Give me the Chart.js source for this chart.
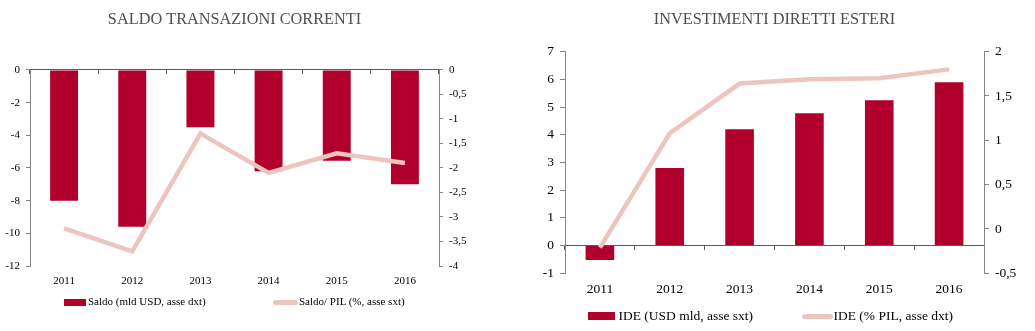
<!DOCTYPE html>
<html>
<head>
<meta charset="utf-8">
<script src="https://cdn.jsdelivr.net/npm/chart.js@4.4.1/dist/chart.umd.min.js"></script>
<style>
  body { margin: 0; width: 1035px; height: 331px; background: #fff; position: relative; overflow: hidden; font-family: 'Liberation Serif', 'Times New Roman', serif; }
  canvas { position: absolute; top: 0; }
  #left { left: 0; }
  #right { left: 515px; }
  .leg { position: absolute; white-space: nowrap; color: #000; line-height: 1; }
  .sw { position: absolute; }
</style>
</head>
<body>
<canvas id="left" width="515" height="331"></canvas>
<canvas id="right" width="520" height="331"></canvas>

<!-- legends -->
<div class="sw" style="left:64px;top:299px;width:22px;height:7px;background:#b1002b"></div>
<div class="leg" style="left:88px;top:296px;font-size:11px">Saldo (mld USD, asse dxt)</div>
<div class="sw" style="left:273px;top:300px;width:25px;height:5px;border-radius:3px;background:#ecc5bf"></div>
<div class="leg" style="left:299px;top:296px;font-size:11px">Saldo/ PIL (%, asse sxt)</div>

<div class="sw" style="left:588px;top:312px;width:27px;height:8px;background:#b1002b"></div>
<div class="leg" style="left:618.5px;top:309px;font-size:13.5px">IDE (USD mld, asse sxt)</div>
<div class="sw" style="left:802px;top:314px;width:31px;height:5px;border-radius:3px;background:#ecc5bf"></div>
<div class="leg" style="left:833.5px;top:309px;font-size:13.5px">IDE (% PIL, asse dxt)</div>

<script>
const years = ['2011', '2012', '2013', '2014', '2015', '2016'];

// Saldo transazioni correnti
const saldoUsd = [-8.0, -9.6, -3.5, -6.2, -5.55, -7.0];
const saldoPil = [-3.23, -3.7, -1.3, -2.1, -1.7, -1.9];

// Investimenti diretti esteri
const ideUsd = [-0.52, 2.8, 4.2, 4.78, 5.25, 5.9];
const idePil = [-0.21, 1.08, 1.64, 1.69, 1.70, 1.80];

const RED = '#b1002b';
const PINK = '#ecc5bf';
const AXIS = '#868686';
const ZERO = '#5b5b5b';
const SERIF = "'Liberation Serif', 'Times New Roman', serif";

Chart.defaults.font.family = SERIF;
Chart.defaults.color = '#000';

const comma = v => String(v).replace('.', ',');

function makeChart(id, o) {
    return new Chart(document.getElementById(id), {
        type: 'bar',
        data: {
            labels: years,
            datasets: [
                {
                    type: 'line',
                    label: o.lineLabel,
                    data: o.line,
                    yAxisID: 'y1',
                    borderColor: PINK,
                    borderWidth: 4.5,
                    pointRadius: 0,
                    tension: 0,
                    order: 0
                },
                {
                    label: o.barLabel,
                    data: o.bars,
                    yAxisID: 'y',
                    backgroundColor: RED,
                    barPercentage: 0.41,
                    categoryPercentage: 1,
                    order: 1
                }
            ]
        },
        options: {
            responsive: false,
            animation: false,
            layout: { padding: { left: 0, right: o.padRight, top: 0, bottom: 0 } },
            plugins: {
                legend: { display: false },
                tooltip: { enabled: false },
                title: {
                    display: true,
                    text: o.title,
                    fullSize: false,
                    color: '#4f4f4f',
                    font: { family: SERIF, size: 16.3, weight: 'normal' },
                    padding: { top: 10, bottom: o.titleGap }
                }
            },
            scales: {
                x: {
                    offset: true,
                    grid: { display: false, drawTicks: false },
                    border: { display: false },
                    ticks: { font: { size: o.font }, padding: o.xPad, maxRotation: 0 },
                    afterFit: s => { s.height = o.xHeight; }
                },
                x2: {
                    type: 'category',
                    labels: years,
                    offset: true,
                    position: { y: 0 },
                    grid: { offset: true, drawOnChartArea: false, tickLength: 4, color: ZERO },
                    border: { color: ZERO },
                    ticks: { display: false }
                },
                y: {
                    min: o.yMin, max: o.yMax,
                    ticks: { stepSize: o.yStep, callback: comma, font: { size: o.font }, padding: o.yPad },
                    grid: { drawOnChartArea: false, tickLength: o.tick, color: AXIS },
                    border: { color: AXIS },
                    afterFit: s => { s.width = o.yWidth; }
                },
                y1: {
                    position: 'right',
                    min: o.y1Min, max: o.y1Max,
                    ticks: { stepSize: 0.5, callback: comma, font: { size: o.font }, padding: o.yPad },
                    grid: { drawOnChartArea: false, tickLength: o.tick, color: AXIS },
                    border: { color: AXIS },
                    afterFit: s => { s.width = o.y1Width; }
                }
            }
        }
    });
}

makeChart('left', {
    title: 'SALDO TRANSAZIONI CORRENTI',
    barLabel: 'Saldo (mld USD, asse dxt)',
    lineLabel: 'Saldo/ PIL (%, asse sxt)',
    bars: saldoUsd, line: saldoPil,
    yMin: -12, yMax: 0, yStep: 2,
    y1Min: -4, y1Max: 0,
    font: 11, tick: 4, yPad: 6, xPad: 8.5,
    yWidth: 30, y1Width: 40, padRight: 36,
    titleGap: 40.4, xHeight: 65
});

makeChart('right', {
    title: 'INVESTIMENTI DIRETTI ESTERI',
    barLabel: 'IDE (USD mld, asse sxt)',
    lineLabel: 'IDE (% PIL, asse dxt)',
    bars: ideUsd, line: idePil,
    yMin: -1, yMax: 7, yStep: 1,
    y1Min: -0.5, y1Max: 2,
    font: 13.5, tick: 5, yPad: 6, xPad: 8,
    yWidth: 50, y1Width: 40, padRight: 11,
    titleGap: 22.1, xHeight: 57.7
});
</script>
</body>
</html>
